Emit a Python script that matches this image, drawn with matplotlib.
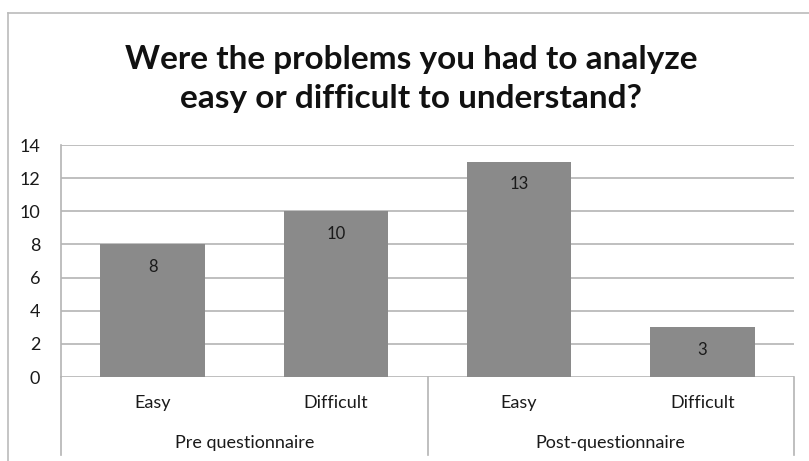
import numpy as np
import matplotlib.pyplot as plt
import matplotlib.transforms as mtransforms

plt.rcParams['font.family'] = ['Lato', 'DejaVu Sans']

# data
categories = ['Easy', 'Difficult', 'Easy', 'Difficult']
groups = ['Pre questionnaire', 'Post-questionnaire']
group_of = [0, 0, 1, 1]
values = [8, 10, 13, 3]
title = 'Were the problems you had to analyze\neasy or difficult to understand?'

bar_color = '#8a8a8a'
line_color = '#b4b4b4'
text_color = '#1a1a1a'

fig = plt.figure(figsize=(8.09, 4.61), dpi=100)
ax = fig.add_axes([61 / 809, 1 - 377 / 461, (794 - 61) / 809, (377 - 145) / 461])

x = np.arange(len(categories))
bars = ax.bar(x, values, width=0.57, color=bar_color, zorder=3)

for xi, v in zip(x, values):
    ax.annotate(str(v), (xi, v), xytext=(0, -16), textcoords='offset points',
                ha='center', va='center', fontsize=12, color=text_color, zorder=4)

ax.set_xlim(-0.5, len(categories) - 0.5)
ax.set_ylim(0, 14)
ax.set_yticks(np.arange(0, 15, 2))
ax.yaxis.grid(True, color=line_color, lw=1.2, zorder=0)
ax.tick_params(axis='y', length=0, labelsize=13, pad=15, colors=text_color)
ax.set_xticks([])
for s in ['top', 'right', 'bottom']:
    ax.spines[s].set_visible(False)
ax.spines['left'].set_color(line_color)
ax.spines['left'].set_linewidth(1.2)

# category area below the axis
trans = mtransforms.blended_transform_factory(ax.transData, ax.transAxes)
depth = -(455 - 377) / 232
seps = [-0.5]
for i in range(1, len(group_of)):
    if group_of[i] != group_of[i - 1]:
        seps.append(i - 0.5)
seps.append(len(categories) - 0.5)
for sx in seps:
    ax.plot([sx, sx], [0, depth], transform=trans, color=line_color, lw=1.2,
            clip_on=False)

for xi, c in zip(x, categories):
    ax.text(xi, -(403 - 377) / 232, c, transform=trans, ha='center', va='center',
            fontsize=13, color=text_color)
for gi, g in enumerate(groups):
    idx = [i for i in range(len(categories)) if group_of[i] == gi]
    ax.text(np.mean(idx), -(443 - 377) / 232, g, transform=trans, ha='center',
            va='center', fontsize=13, color=text_color)

fig.text(411 / 809, 1 - 79 / 461, title, ha='center', va='center',
         fontsize=24, fontweight='bold', linespacing=1.4, color='#111111')

# chart frame (left and top edges visible)
fig.add_artist(plt.Line2D([8 / 809, 8 / 809], [0, 1 - 13 / 461], transform=fig.transFigure,
                          color='#bbbbbb', lw=1.2))
fig.add_artist(plt.Line2D([8 / 809, 1], [1 - 13 / 461, 1 - 13 / 461], transform=fig.transFigure,
                          color='#bbbbbb', lw=1.2))

fig.savefig('out.png', dpi=100)
